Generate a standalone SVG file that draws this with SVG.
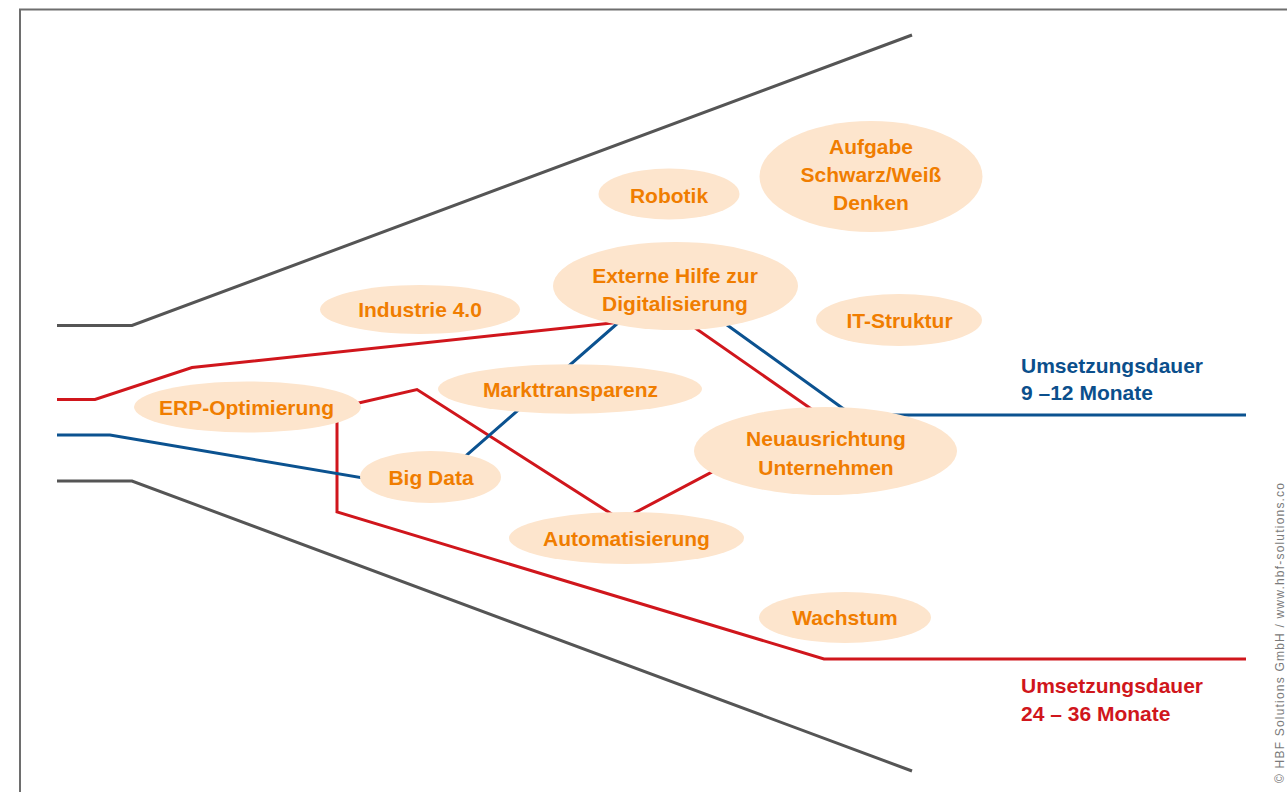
<svg xmlns="http://www.w3.org/2000/svg" width="1287" height="792" viewBox="0 0 1287 792">
<style>
.n{fill:#fde5cd;}
.t{font-family:"Liberation Sans",Arial,sans-serif;font-weight:bold;font-size:21px;fill:#f07d00;text-anchor:middle;}
.lbl{font-family:"Liberation Sans",Arial,sans-serif;font-weight:bold;font-size:21px;}
.g{fill:none;stroke:#555555;stroke-width:3;}
.r{fill:none;stroke:#d0161c;stroke-width:3;}
.b{fill:none;stroke:#0b5290;stroke-width:3;}
</style>
<rect width="1287" height="792" fill="#ffffff"/>
<path d="M20,792 V9.5 H1287" fill="none" stroke="#6e6e6e" stroke-width="2"/>
<g id="connectors">
<polyline class="g" points="57,325.5 132,325.5 912,35"/>
<polyline class="g" points="57,481 132,481 912,771"/>
<polyline class="r" points="57,399.5 95,399.5 192,367.5 678,316 820,415 621,520 417,389.5 337,408 337,512 824,659 1246,659"/>
<polyline class="b" points="57,435 110,435 428,489 666,281 852,415 1246,415"/>
</g>
<g id="robotik"><ellipse class="n" cx="669" cy="194" rx="70.5" ry="25.5"/><text class="t" x="669" y="203">Robotik</text></g>
<g id="aufgabe"><ellipse class="n" cx="871" cy="176.5" rx="111.5" ry="55.5"/><text class="t" x="871" y="153.5">Aufgabe</text><text class="t" x="871" y="181.5">Schwarz/Weiß</text><text class="t" x="871" y="210">Denken</text></g>
<g id="externe"><ellipse class="n" cx="675.5" cy="286" rx="122.5" ry="44"/><text class="t" x="675" y="283">Externe Hilfe zur</text><text class="t" x="675" y="311">Digitalisierung</text></g>
<g id="industrie"><ellipse class="n" cx="420" cy="309.5" rx="100" ry="24.5"/><text class="t" x="420" y="317">Industrie 4.0</text></g>
<g id="itstruktur"><ellipse class="n" cx="899" cy="320" rx="83" ry="26"/><text class="t" x="899.5" y="328">IT-Struktur</text></g>
<g id="markttransparenz"><ellipse class="n" cx="570" cy="389" rx="132" ry="24.7"/><text class="t" x="570.5" y="397">Markttransparenz</text></g>
<g id="erp"><ellipse class="n" cx="247.5" cy="407" rx="113.5" ry="25.5"/><text class="t" x="246.5" y="415">ERP-Optimierung</text></g>
<g id="neuausrichtung"><ellipse class="n" cx="825.5" cy="451" rx="131.5" ry="44"/><text class="t" x="826" y="446">Neuausrichtung</text><text class="t" x="826" y="474.5">Unternehmen</text></g>
<g id="bigdata"><ellipse class="n" cx="430.5" cy="477" rx="70.5" ry="26"/><text class="t" x="431" y="484.5">Big Data</text></g>
<g id="automatisierung"><ellipse class="n" cx="626.5" cy="538" rx="117.5" ry="26"/><text class="t" x="626.5" y="546">Automatisierung</text></g>
<g id="wachstum"><ellipse class="n" cx="845" cy="617.5" rx="86" ry="25.5"/><text class="t" x="845" y="625">Wachstum</text></g>
<g id="labels">
<text class="lbl" fill="#0b4f8c" x="1021" y="372.5">Umsetzungsdauer</text>
<text class="lbl" fill="#0b4f8c" x="1021" y="400">9 –12 Monate</text>
<text class="lbl" fill="#d0161c" x="1021" y="693">Umsetzungsdauer</text>
<text class="lbl" fill="#d0161c" x="1021" y="721">24 – 36 Monate</text>
<text font-family="'Liberation Sans',Arial,sans-serif" font-size="12" letter-spacing="1.2" fill="#7a7a7a" transform="translate(1284,783) rotate(-90)">© HBF Solutions GmbH / www.hbf-solutions.co</text>
</g>
</svg>
